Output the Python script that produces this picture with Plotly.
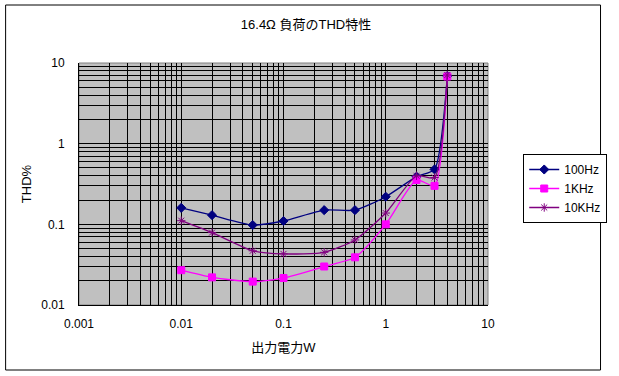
import plotly.graph_objects as go

power_w = [0.01, 0.02, 0.05, 0.1, 0.25, 0.5, 1.0, 2.0, 3.0, 4.0]
thd_100hz = [0.16, 0.13, 0.098, 0.11, 0.15, 0.15, 0.22, 0.39, 0.48, 6.9]
thd_1khz = [0.027, 0.022, 0.0195, 0.0216, 0.030, 0.039, 0.10, 0.355, 0.30, 6.8]
thd_10khz = [0.111, 0.079, 0.047, 0.043, 0.045, 0.064, 0.138, 0.40, 0.38, 7.1]

x_tickvals = [0.001, 0.01, 0.1, 1, 10]
x_ticktext = ["0.001", "0.01", "0.1", "1", "10"]
y_tickvals = [0.01, 0.1, 1, 10]
y_ticktext = ["0.01", "0.1", "1", "10"]

series = [
    ("100Hz", thd_100hz, "#000080", "diamond", 7),
    ("1KHz", thd_1khz, "#FF00FF", "square", 7),
    ("10KHz", thd_10khz, "#800080", "asterisk-open", 7),
]

font_main = "Liberation Sans, Noto Sans CJK JP, sans-serif"

fig = go.Figure()
for name, vals, color, sym, sz in series:
    fig.add_trace(go.Scatter(
        x=power_w, y=vals, name=name, mode="lines+markers",
        line=dict(color=color, width=1.3, shape="spline", smoothing=0.6),
        marker=dict(symbol=sym, size=sz, color=color,
                    line=dict(color=color, width=1)),
    ))

axis_common = dict(
    type="log", showgrid=True, gridcolor="black", gridwidth=1,
    showline=True, linecolor="black", linewidth=1,
    ticks="", zeroline=False,
    tickfont=dict(size=12, color="black", family=font_main),
    minor=dict(dtick="D1", showgrid=True, gridcolor="black", gridwidth=1, ticks=""),
)

fig.update_xaxes(**axis_common, range=[-3, 1], tickvals=x_tickvals, ticktext=x_ticktext,
                 ticklabelstandoff=8,
                 title=dict(text="出力電力W", font=dict(size=13, color="black", family=font_main), standoff=12))
fig.update_yaxes(**axis_common, range=[-2, 1], tickvals=y_tickvals, ticktext=y_ticktext,
                 ticklabelstandoff=11,
                 title=dict(text="THD%", font=dict(size=13, color="black", family=font_main), standoff=6))

# plot area border (gray on top/right)
fig.add_shape(type="rect", xref="x domain", yref="y domain", x0=0, y0=0, x1=1, y1=1,
              line=dict(color="#808080", width=1), layer="below")
# outer chart border
fig.add_shape(type="rect", xref="paper", yref="paper",
              x0=(4 - 79) / 418, x1=(612 - 79) / 418,
              y0=(305 - 370) / 242, y1=(305 - 5) / 242,
              line=dict(color="black", width=1))

fig.update_layout(
    width=619, height=376,
    margin=dict(l=79, r=122, t=63, b=71),
    paper_bgcolor="white", plot_bgcolor="#C0C0C0",
    title=dict(text="16.4Ω 負荷のTHD特性", x=306 / 619, xanchor="center",
               y=1 - 24 / 376, yanchor="middle",
               font=dict(size=13, color="black", family=font_main)),
    legend=dict(x=(533 - 79) / 418, y=(305 - 154) / 242, xanchor="left", yanchor="top",
                bordercolor="black", borderwidth=1, bgcolor="white",
                font=dict(size=12, color="black", family=font_main),
                itemwidth=30, tracegroupgap=0),
    showlegend=True,
)

fig.write_html("out.html", post_script="document.body.style.margin='0';",
               config={"displayModeBar": False})
